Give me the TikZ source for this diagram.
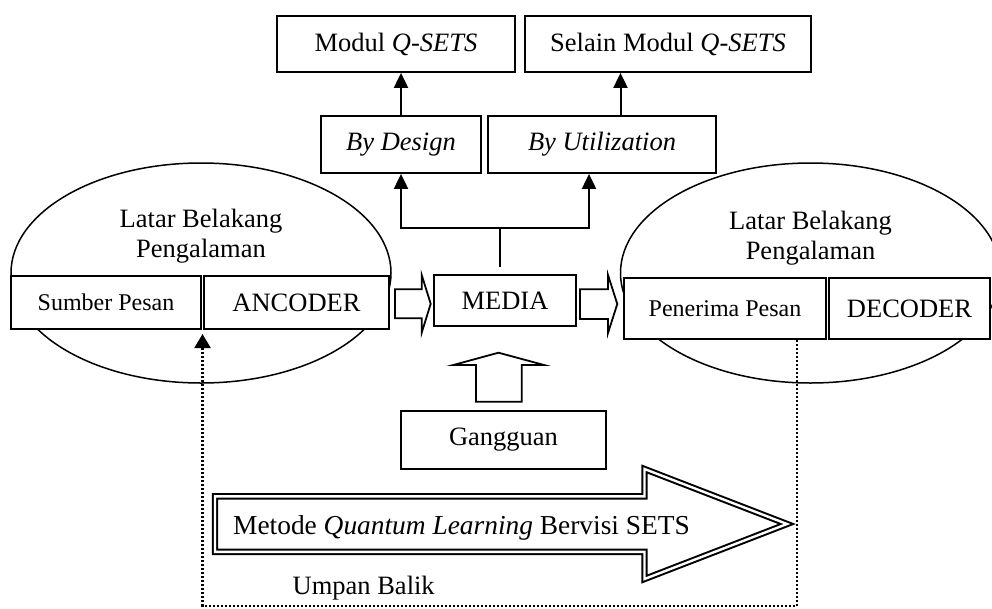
\documentclass[tikz,border=0pt]{standalone}
\usepackage{fontspec}
\setmainfont{Liberation Serif}
\usetikzlibrary{arrows.meta,shapes.geometric,calc}
\newcommand\mainfs{\fontsize{26.5}{30}\selectfont}
\newcommand\smallfs{\fontsize{24}{28}\selectfont}
\begin{document}
\begin{tikzpicture}[x=1pt,y=-1pt,
  box/.style={draw, line width=1.8pt, fill=white, inner sep=0pt, font=\mainfs},
  smallbox/.style={box, font=\smallfs},
  ell/.style={draw, ellipse, line width=1.5pt, inner sep=0pt},
  lbl/.style={inner sep=0pt, font=\mainfs, align=center},
  conn/.style={line width=2pt},
  arr/.style={line width=2pt, -{Triangle[length=15pt,width=14pt]}},
  fb/.style={line width=2.2pt, dash pattern=on 2pt off 2pt, -{Triangle[length=14pt,width=16pt]}},
  blk/.style={draw, line width=1.8pt, fill=white, miter limit=20},
  bigarrow/.style={draw, line width=2pt, double, double distance=2.4pt, miter limit=20}]
\useasboundingbox (0,0) rectangle (992,608);

% ellipses
\node[ell, minimum width=380pt, minimum height=220pt] (ellL) at (201,273) {};
\node[ell, minimum width=380pt, minimum height=220pt] (ellR) at (810.5,273) {};
\node[lbl] (latarL) at (201,236) {Latar Belakang\\Pengalaman};
\node[lbl] (latarR) at (810.5,238) {Latar Belakang\\Pengalaman};

% boxes
\node[box, minimum width=238pt, minimum height=56pt] (modul) at (396,44) {Modul \textit{Q-SETS}};
\node[box, minimum width=286pt, minimum height=56pt] (selain) at (668,44) {Selain Modul \textit{Q-SETS}};
\node[box, minimum width=160pt, minimum height=57pt] (design) at (401,144.5) {\textit{By Design}};
\node[box, minimum width=228pt, minimum height=57pt] (util) at (602,144.5) {\textit{By Utilization}};
\node[smallbox, minimum width=190pt, minimum height=53pt] (sumber) at (106,302.5) {Sumber Pesan};
\node[box, minimum width=185pt, minimum height=53pt] (ancoder) at (296.5,302.5) {ANCODER};
\node[box, minimum width=142pt, minimum height=51pt] (media) at (505,300.5) {MEDIA};
\node[smallbox, minimum width=202pt, minimum height=61pt] (penerima) at (725,308.5) {Penerima Pesan};
\node[box, minimum width=161pt, minimum height=61pt] (decoder) at (909.5,308.5) {DECODER};
\node[box, minimum width=205pt, minimum height=58pt] (gangguan) at (503.5,440) {Gangguan};

% tree connectors from media
\coordinate (mtop) at (500,267);
\coordinate (split) at (500,228);
\draw[conn] (mtop) -- (split);
\draw[arr] (split) -| (design.south);
\draw[arr] (split) -| ([xshift=-13pt]util.south);
\draw[arr] (design.north) -- (design.north |- modul.south);
\draw[arr] ([xshift=18.5pt]util.north) -- ([xshift=18.5pt]util.north |- selain.south);

% block arrows
\draw[blk] (395,289.3) -- (421.7,289.3) -- (421.7,275) -- (430.7,303.8) -- (421.7,332.7) -- (421.7,318.3) -- (395,318.3) -- cycle;
\draw[blk] (580,289.3) -- (608,289.3) -- (608,275) -- (617.3,304) -- (608,333) -- (608,319) -- (580,319) -- cycle;
\draw[blk] (476,401.7) -- (476,365) -- (453.3,365) -- (498.5,352.7) -- (544,365) -- (521.7,365) -- (521.7,401.7) -- cycle;

% big double arrow
\draw[bigarrow] (215,496.3) -- (644.5,496.3) -- (644.5,469) -- (787,524) -- (644.5,579) -- (644.5,551.8) -- (215,551.8) -- cycle;
\node[inner sep=0pt, anchor=base, font=\fontsize{27.4}{30}\selectfont] (metode) at (461.5,534) {Metode \textit{Quantum Learning} Bervisi SETS};

% feedback
\coordinate (fbtip) at (202.5,334);
\draw[fb] ([xshift=72pt]penerima.south) -- ++(0,266) -| (fbtip);
\node[inner sep=0pt, anchor=base, font=\mainfs] (umpan) at (363.7,594) {Umpan Balik};
\end{tikzpicture}
\end{document}
